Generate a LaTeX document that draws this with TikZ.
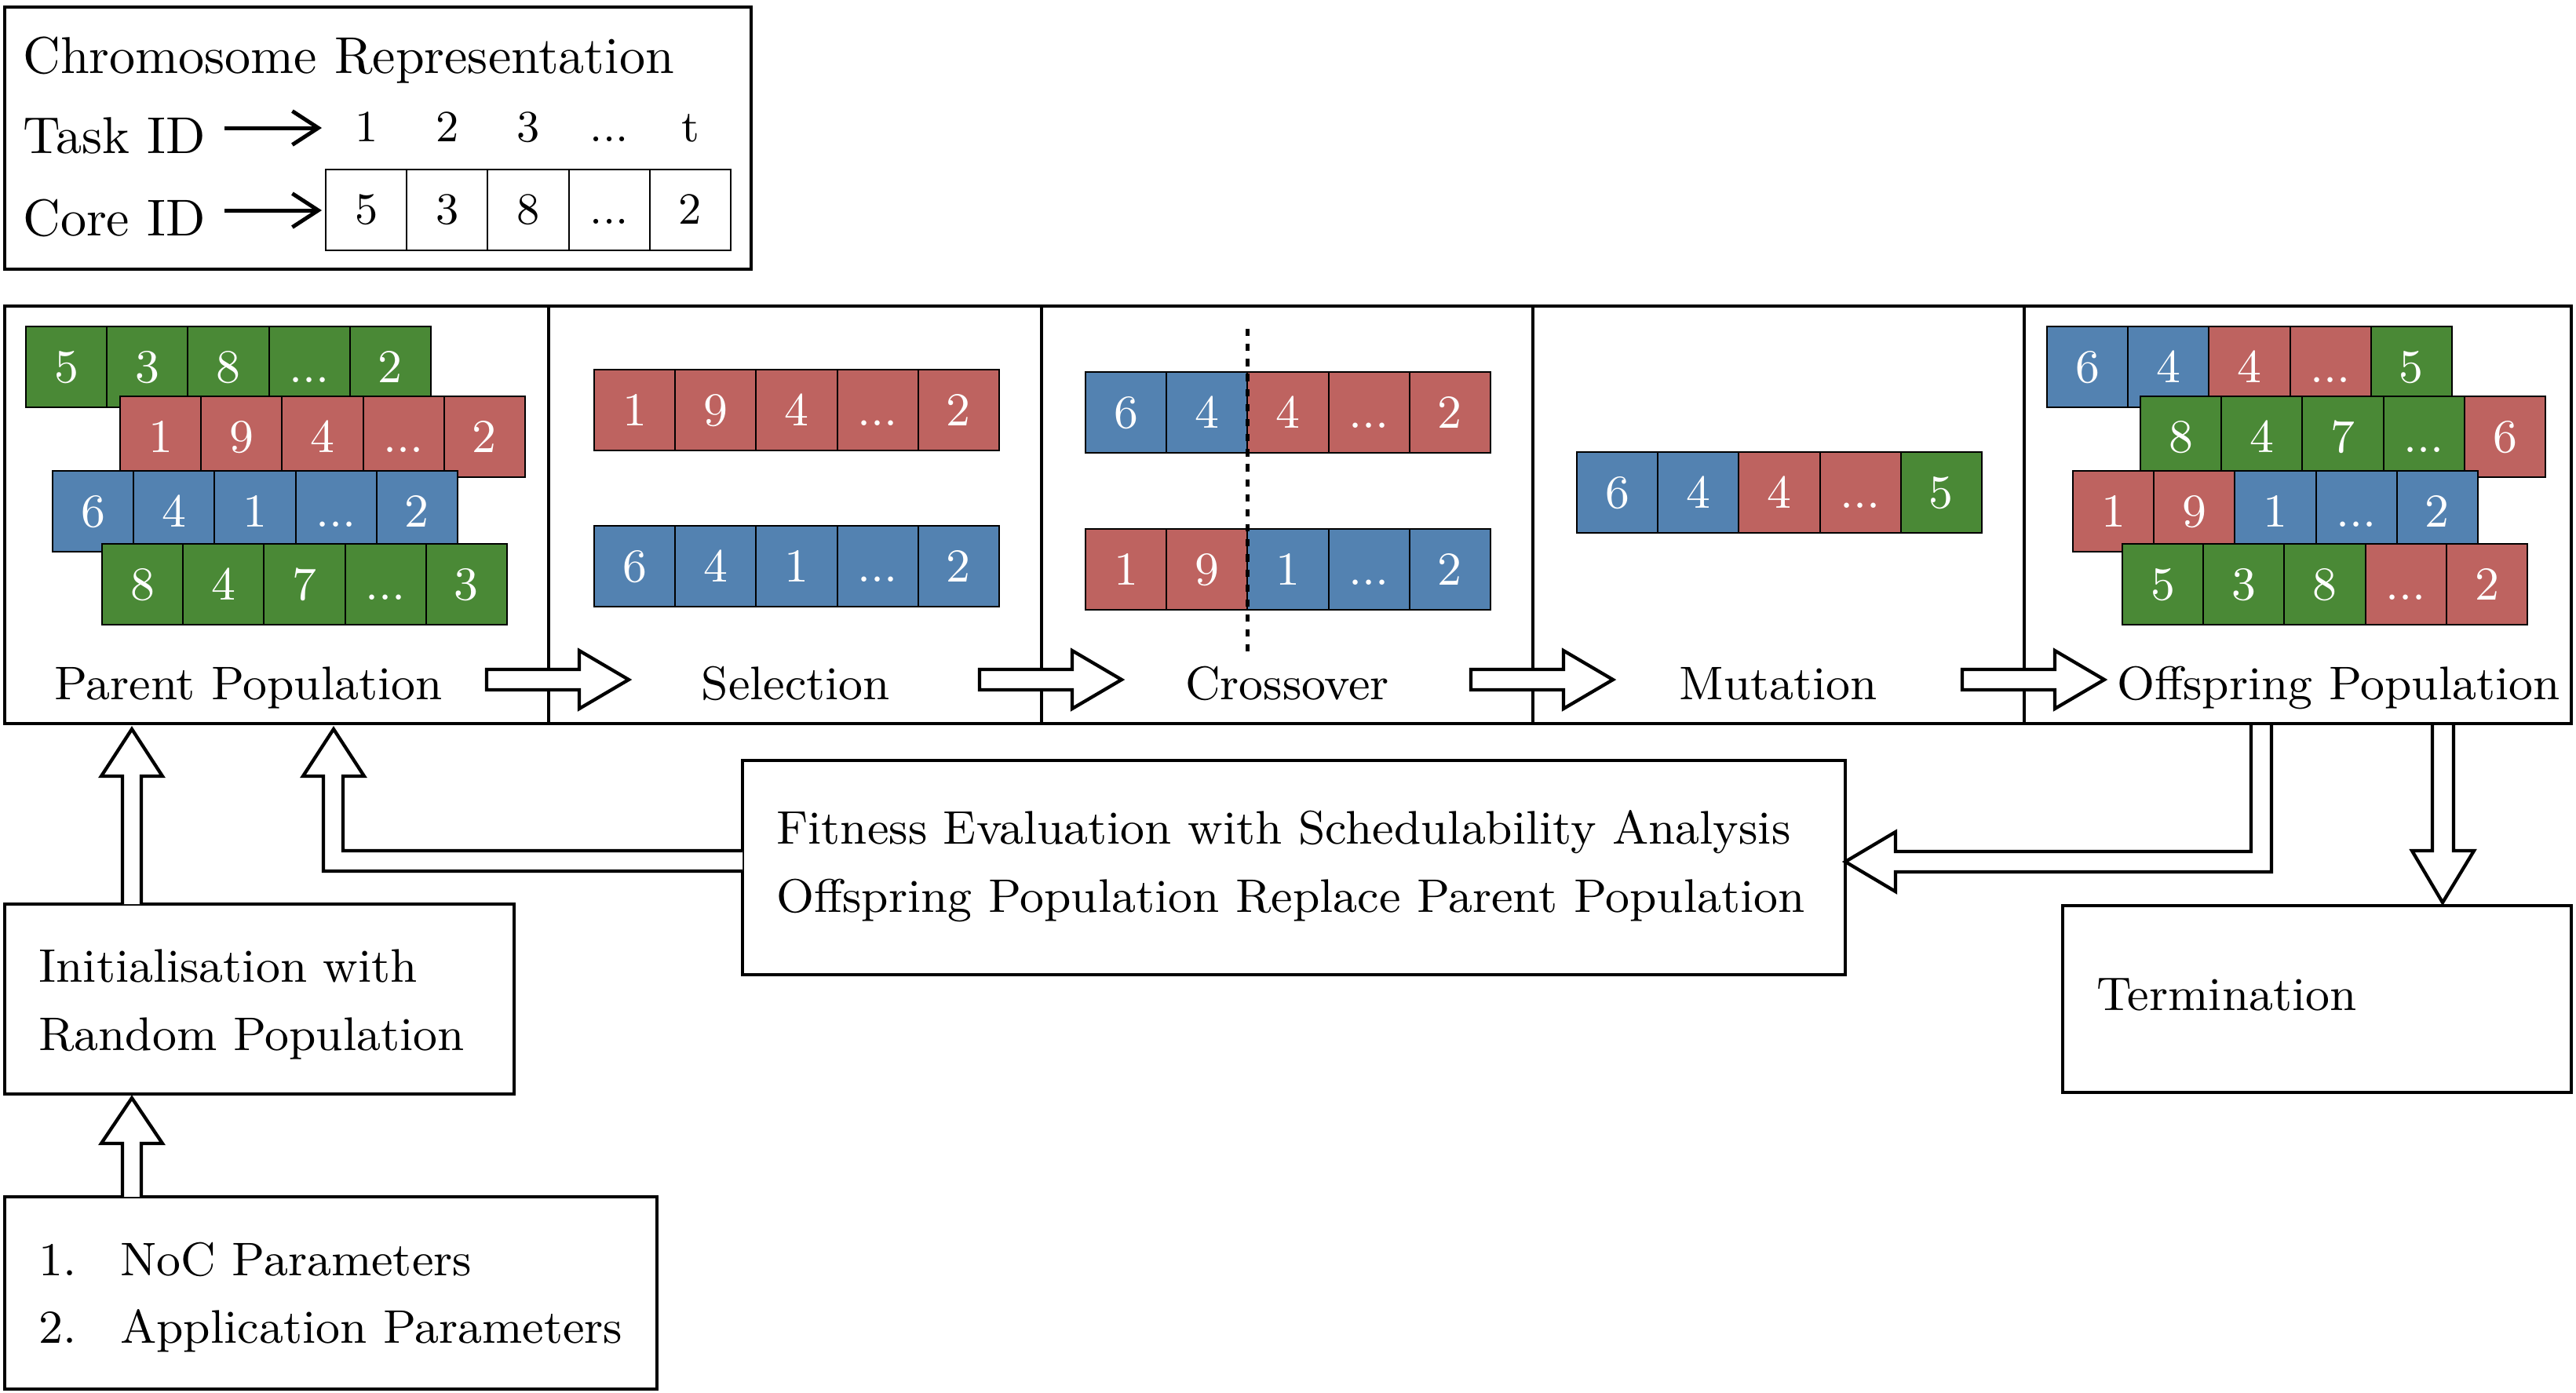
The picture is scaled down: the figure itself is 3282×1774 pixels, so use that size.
\documentclass[tikz,border=0pt]{standalone}
\usetikzlibrary{fit,arrows.meta}
\definecolor{cg}{RGB}{74,137,54}
\definecolor{cr}{RGB}{190,99,96}
\definecolor{cb}{RGB}{83,130,177}
\newcommand{\dd}{...}
\newcommand{\cellrow}[4]{%
  \foreach \col/\lab [count=\i from 0] in {#4} {%
    \node[cell, fill=\col] (#1-\i) at ({#2+51.6+103.2*\i},{#3+51.6}) {\lab};
  }}
\begin{document}
\begin{tikzpicture}[x=0.1514pt,y=-0.1514pt,
  font=\fontsize{9.1}{11}\selectfont,
  bigfont/.style={font=\fontsize{10}{12}\selectfont},
  smallfont/.style={font=\fontsize{8.6}{10.3}\selectfont},
  box/.style={draw, line width=0.7pt, inner sep=0pt},
  cell/.style={draw, line width=0.3pt, minimum width=15.62pt, minimum height=15.62pt, inner sep=0pt, text=white, text height=5.9pt, text depth=0pt},
  cellw/.style={cell, fill=white, text=black, smallfont, text height=5.55pt},
  lbl/.style={inner sep=0pt, anchor=base west},
  clbl/.style={inner sep=0pt, anchor=base},
  blockarrow/.style={draw, fill=white, line width=0.65pt, line join=miter},
  idarrow/.style={line width=0.75pt, -{Straight Barb[length=5pt,width=6.5pt,line width=0.75pt]}}]
\useasboundingbox (0,0) rectangle (3282,1774);

% chromosome representation
\node[box, fit={(6,9)(957,343)}] (chromo) {};
\node[lbl, bigfont] (chromotitle) at (28,93) {Chromosome Representation};
\node[lbl, bigfont] (taskid) at (28,195) {Task ID};
\node[lbl, bigfont] (coreid) at (28,300) {Core ID};
\coordinate (ta1) at (286,163); \coordinate (ta2) at (410,163);
\coordinate (ca1) at (286,268); \coordinate (ca2) at (410,268);
\draw[idarrow] (ta1) -- (ta2);
\draw[idarrow] (ca1) -- (ca2);
\foreach \lab [count=\i from 0] in {1,2,3,\dd,t}
  \node[clbl, smallfont] (task-\i) at ({466.6+103.2*\i},180) {\lab};
\foreach \lab [count=\i from 0] in {5,3,8,\dd,2}
  \node[cellw] (core-\i) at ({466.6+103.2*\i},267.5) {\lab};

% stage boxes
\node[box, fit={(6,390)(699,922)}] (parentbox) {};
\node[box, fit={(699,390)(1327,922)}] (selbox) {};
\node[box, fit={(1327,390)(1953,922)}] (crossbox) {};
\node[box, fit={(1953,390)(2579,922)}] (mutbox) {};
\node[box, fit={(2579,390)(3276,922)}] (offbox) {};

% horizontal block arrows
\foreach \d in {699,1327,1953,2579}
  \draw[blockarrow] ({\d-79},853) -- ({\d+39},853) -- ({\d+39},829) -- ({\d+102},866)
     -- ({\d+39},903) -- ({\d+39},879) -- ({\d-79},879) -- cycle;

% stage labels
\node[lbl] (lparent) at (68,891) {Parent Population};
\node[clbl] (lsel) at (1014,891) {Selection};
\node[clbl] (lcross) at (1640,891) {Crossover};
\node[clbl] (lmut) at (2266,891) {Mutation};
\node[lbl] (loff) at (2696,891) {Offspring Population};

% parent population
\cellrow{p1}{33}{416}{cg/5,cg/3,cg/8,cg/\dd,cg/2}
\cellrow{p2}{153}{505}{cr/1,cr/9,cr/4,cr/\dd,cr/2}
\cellrow{p3}{67}{600}{cb/6,cb/4,cb/1,cb/\dd,cb/2}
\cellrow{p4}{130}{693}{cg/8,cg/4,cg/7,cg/\dd,cg/3}

% selection
\cellrow{s1}{757}{471}{cr/1,cr/9,cr/4,cr/\dd,cr/2}
\cellrow{s2}{757}{670}{cb/6,cb/4,cb/1,cb/\dd,cb/2}

% crossover
\cellrow{c1}{1383}{474}{cb/6,cb/4,cr/4,cr/\dd,cr/2}
\cellrow{c2}{1383}{674}{cr/1,cr/9,cb/1,cb/\dd,cb/2}
\coordinate (cut1) at (1589,419); \coordinate (cut2) at (1589,830);
\draw[line width=0.75pt, dash pattern=on 1.4pt off 1.5pt] (cut1) -- (cut2);

% mutation
\cellrow{m1}{2009}{576}{cb/6,cb/4,cr/4,cr/\dd,cg/5}

% offspring population
\cellrow{o1}{2608}{416}{cb/6,cb/4,cr/4,cr/\dd,cg/5}
\cellrow{o2}{2727}{505}{cg/8,cg/4,cg/7,cg/\dd,cr/6}
\cellrow{o3}{2641}{600}{cr/1,cr/9,cb/1,cb/\dd,cb/2}
\cellrow{o4}{2704}{693}{cg/5,cg/3,cg/8,cr/\dd,cr/2}

% fitness box
\node[box, fit={(946,969)(2351,1242)}] (fitness) {};
\node[lbl] (fit1) at (988,1075) {Fitness Evaluation with Schedulability Analysis};
\node[lbl] (fit2) at (988,1162) {Offspring Population Replace Parent Population};

% termination
\node[box, fit={(2628,1154)(3276,1392)}] (term) {};
\node[lbl] (termtxt) at (2670,1287) {Termination};

% initialisation
\node[box, fit={(6,1152)(655,1394)}] (init) {};
\node[lbl] (init1) at (48,1251) {Initialisation with};
\node[lbl] (init2) at (48,1338) {Random Population};

% parameters
\node[box, fit={(6,1525)(837,1770)}] (params) {};
\node[lbl] (par1n) at (48,1625) {1.};
\node[lbl] (par1) at (152,1625) {NoC Parameters};
\node[lbl] (par2n) at (48,1711) {2.};
\node[lbl] (par2) at (152,1711) {Application Parameters};

% vertical / L-shaped block arrows
\draw[blockarrow] (156,1152) -- (156,989) -- (129,989) -- (168,929) -- (207,989) -- (180,989) -- (180,1152);
\draw[blockarrow] (156,1525) -- (156,1457) -- (129,1457) -- (168,1399) -- (207,1457) -- (180,1457) -- (180,1525);
\draw[blockarrow] (946,1084) -- (437,1084) -- (437,989) -- (464,989) -- (425,929) -- (386,989) -- (412,989) -- (412,1110) -- (946,1110);
\draw[blockarrow] (2868,924) -- (2868,1085) -- (2415,1085) -- (2415,1060) -- (2351,1098) -- (2415,1136) -- (2415,1111) -- (2894,1111) -- (2894,924);
\draw[blockarrow] (3099,924) -- (3099,1084) -- (3073,1084) -- (3112,1150) -- (3152,1084) -- (3126,1084) -- (3126,924);
\end{tikzpicture}
\end{document}
